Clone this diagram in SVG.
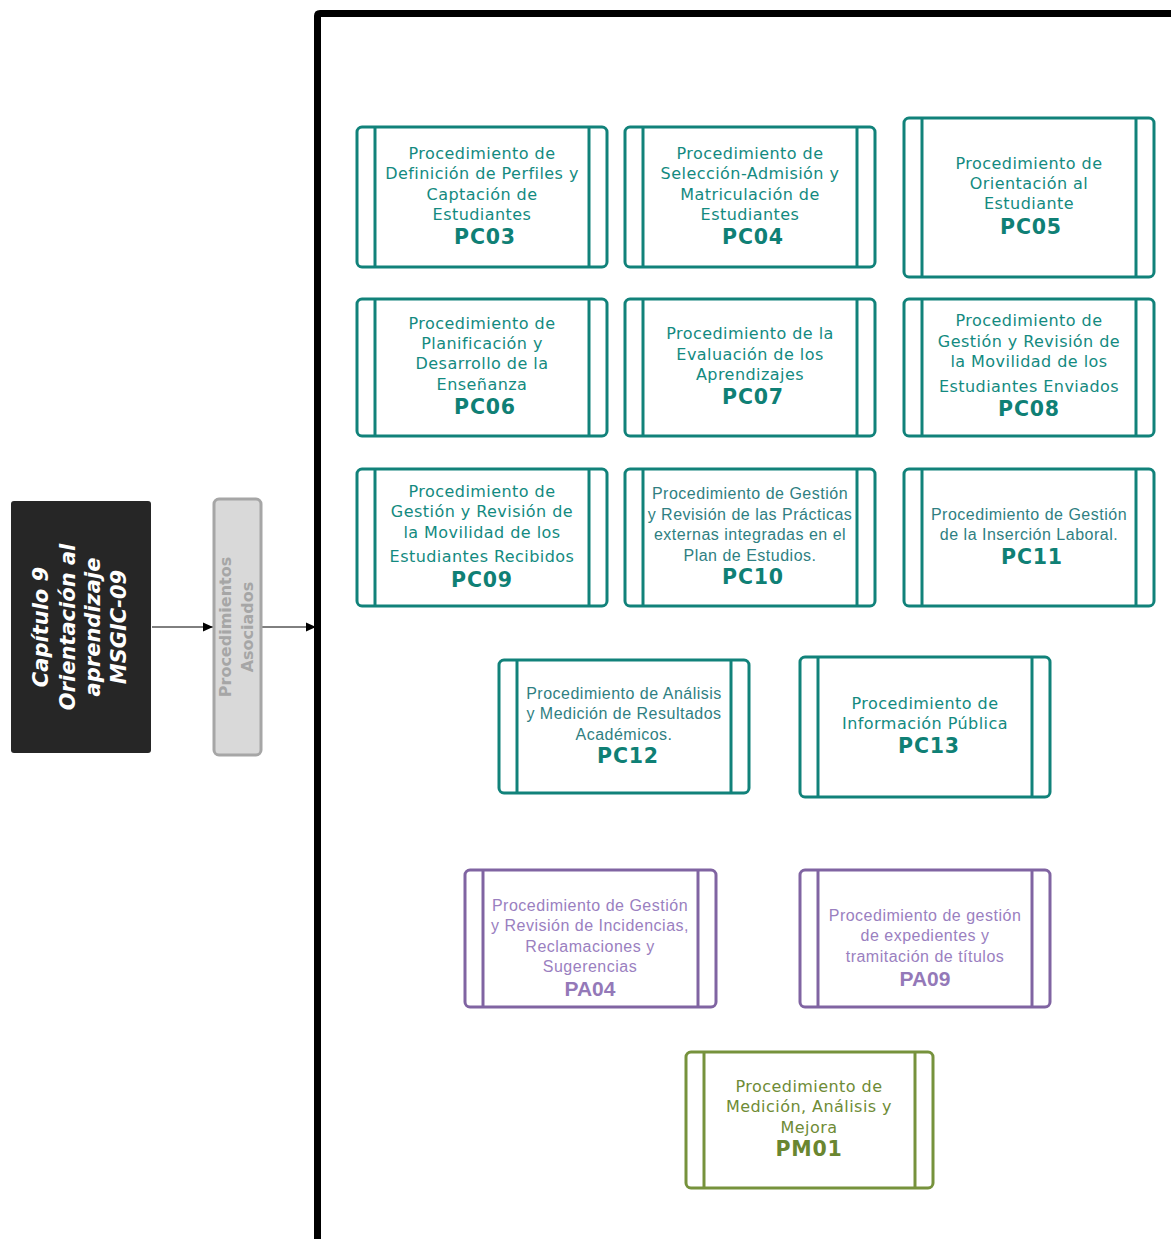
<svg xmlns="http://www.w3.org/2000/svg" width="1171" height="1239" viewBox="0 0 1171 1239">
<defs>
<style>
.teal rect{fill:#fff;stroke:#11827a;stroke-width:3}
.teal line{stroke:#11827a;stroke-width:3}
.purple rect{fill:#fff;stroke:#8064a2;stroke-width:3}
.purple line{stroke:#8064a2;stroke-width:3}
.green rect{fill:#fff;stroke:#76923c;stroke-width:3}
.green line{stroke:#76923c;stroke-width:3}
text{text-anchor:middle}
.v{font-family:"DejaVu Sans",Verdana,sans-serif;font-size:16px;letter-spacing:0.45px}
.a{font-family:"Liberation Sans",Arial,sans-serif;font-size:16px;letter-spacing:0.5px}
.vb{font-family:"DejaVu Sans",Verdana,sans-serif;font-size:20.5px;font-weight:bold;letter-spacing:0.8px}
.ab{font-family:"Liberation Sans",Arial,sans-serif;font-size:21px;font-weight:bold}
.tt{fill:#138a80}
.ta{fill:#2f7f82}
.tc{fill:#0f8075}
.pt{fill:#9a80bf}
.pc{fill:#9479b8}
.gt{fill:#6e8b36}
.gc{fill:#6a8630}
</style>
<marker id="arr" viewBox="0 0 10 10" refX="10" refY="5" markerWidth="10" markerHeight="10" markerUnits="userSpaceOnUse" orient="auto">
<path d="M0,0.5 L10,5 L0,9.5 z" fill="#000"/>
</marker>
</defs>
<rect width="1171" height="1239" fill="#fff"/>

<g id="frame">
<path d="M317.5,1245 V16 Q317.5,13.5 320,13.5 H1180" fill="none" stroke="#000" stroke-width="7"/>
</g>

<g id="connectors">
<line x1="152" y1="627" x2="213" y2="627" stroke="#000" stroke-width="1" marker-end="url(#arr)"/>
<line x1="262" y1="627" x2="316" y2="627" stroke="#000" stroke-width="1" marker-end="url(#arr)"/>
</g>

<g id="capitulo">
<rect x="11" y="501" width="140" height="252" rx="3" fill="#262626"/>
<g transform="translate(0,627) rotate(-90)" font-family="'DejaVu Sans',Verdana,sans-serif" font-size="21px" font-weight="bold" font-style="italic" fill="#fff">
<text x="0" y="48">Capítulo 9</text>
<text x="0" y="75">Orientación al</text>
<text x="0" y="100">aprendizaje</text>
<text x="0" y="126">MSGIC-09</text>
</g>
</g>

<g id="asociados">
<rect x="214" y="499" width="47" height="256" rx="5" fill="#d9d9d9" stroke="#a6a6a6" stroke-width="3"/>
<g transform="translate(0,627) rotate(-90)" font-family="'DejaVu Sans',Verdana,sans-serif" font-size="16px" font-weight="bold" fill="#a6a6a6">
<text x="0" y="231">Procedimientos</text>
<text x="0" y="253">Asociados</text>
</g>
</g>

<g id="PC03" class="teal">
<rect x="357" y="127" width="250" height="140" rx="5"/>
<line x1="375" y1="127" x2="375" y2="267"/><line x1="589" y1="127" x2="589" y2="267"/>
<text class="v tt" x="482" y="159">Procedimiento de</text>
<text class="v tt" x="482" y="179">Definición de Perfiles y</text>
<text class="v tt" x="482" y="200">Captación de</text>
<text class="v tt" x="482" y="220">Estudiantes</text>
<text class="vb tc" x="485" y="244">PC03</text>
</g>

<g id="PC04" class="teal">
<rect x="625" y="127" width="250" height="140" rx="5"/>
<line x1="643" y1="127" x2="643" y2="267"/><line x1="857" y1="127" x2="857" y2="267"/>
<text class="v tt" x="750" y="159">Procedimiento de</text>
<text class="v tt" x="750" y="179">Selección-Admisión y</text>
<text class="v tt" x="750" y="200">Matriculación de</text>
<text class="v tt" x="750" y="220">Estudiantes</text>
<text class="vb tc" x="753" y="244">PC04</text>
</g>

<g id="PC05" class="teal">
<rect x="904" y="118" width="250" height="159" rx="5"/>
<line x1="922" y1="118" x2="922" y2="277"/><line x1="1136" y1="118" x2="1136" y2="277"/>
<text class="v tt" x="1029" y="169">Procedimiento de</text>
<text class="v tt" x="1029" y="189">Orientación al</text>
<text class="v tt" x="1029" y="209">Estudiante</text>
<text class="vb tc" x="1031" y="234">PC05</text>
</g>

<g id="PC06" class="teal">
<rect x="357" y="299" width="250" height="137" rx="5"/>
<line x1="375" y1="299" x2="375" y2="436"/><line x1="589" y1="299" x2="589" y2="436"/>
<text class="v tt" x="482" y="329">Procedimiento de</text>
<text class="v tt" x="482" y="349">Planificación y</text>
<text class="v tt" x="482" y="369">Desarrollo de la</text>
<text class="v tt" x="482" y="390">Enseñanza</text>
<text class="vb tc" x="485" y="414">PC06</text>
</g>

<g id="PC07" class="teal">
<rect x="625" y="299" width="250" height="137" rx="5"/>
<line x1="643" y1="299" x2="643" y2="436"/><line x1="857" y1="299" x2="857" y2="436"/>
<text class="v tt" x="750" y="339">Procedimiento de la</text>
<text class="v tt" x="750" y="360">Evaluación de los</text>
<text class="v tt" x="750" y="380">Aprendizajes</text>
<text class="vb tc" x="753" y="404">PC07</text>
</g>

<g id="PC08" class="teal">
<rect x="904" y="299" width="250" height="137" rx="5"/>
<line x1="922" y1="299" x2="922" y2="436"/><line x1="1136" y1="299" x2="1136" y2="436"/>
<text class="v tt" x="1029" y="326">Procedimiento de</text>
<text class="v tt" x="1029" y="347">Gestión y Revisión de</text>
<text class="v tt" x="1029" y="367">la Movilidad de los</text>
<text class="v tt" x="1029" y="392">Estudiantes Enviados</text>
<text class="vb tc" x="1029" y="416">PC08</text>
</g>

<g id="PC09" class="teal">
<rect x="357" y="469" width="250" height="137" rx="5"/>
<line x1="375" y1="469" x2="375" y2="606"/><line x1="589" y1="469" x2="589" y2="606"/>
<text class="v tt" x="482" y="497">Procedimiento de</text>
<text class="v tt" x="482" y="517">Gestión y Revisión de</text>
<text class="v tt" x="482" y="538">la Movilidad de los</text>
<text class="v tt" x="482" y="562">Estudiantes Recibidos</text>
<text class="vb tc" x="482" y="587">PC09</text>
</g>

<g id="PC10" class="teal">
<rect x="625" y="469" width="250" height="137" rx="5"/>
<line x1="643" y1="469" x2="643" y2="606"/><line x1="857" y1="469" x2="857" y2="606"/>
<text class="a ta" x="750" y="499">Procedimiento de Gestión</text>
<text class="a ta" x="750" y="520">y Revisión de las Prácticas</text>
<text class="a ta" x="750" y="540">externas integradas en el</text>
<text class="a ta" x="750" y="561">Plan de Estudios.</text>
<text class="vb tc" x="753" y="584">PC10</text>
</g>

<g id="PC11" class="teal">
<rect x="904" y="469" width="250" height="137" rx="5"/>
<line x1="922" y1="469" x2="922" y2="606"/><line x1="1136" y1="469" x2="1136" y2="606"/>
<text class="a ta" x="1029" y="520">Procedimiento de Gestión</text>
<text class="a ta" x="1029" y="540">de la Inserción Laboral.</text>
<text class="vb tc" x="1032" y="564">PC11</text>
</g>

<g id="PC12" class="teal">
<rect x="499" y="660" width="250" height="133" rx="5"/>
<line x1="517" y1="660" x2="517" y2="793"/><line x1="731" y1="660" x2="731" y2="793"/>
<text class="a ta" x="624" y="699">Procedimiento de Análisis</text>
<text class="a ta" x="624" y="719">y Medición de Resultados</text>
<text class="a ta" x="624" y="740">Académicos.</text>
<text class="vb tc" x="628" y="763">PC12</text>
</g>

<g id="PC13" class="teal">
<rect x="800" y="657" width="250" height="140" rx="5"/>
<line x1="818" y1="657" x2="818" y2="797"/><line x1="1032" y1="657" x2="1032" y2="797"/>
<text class="v tt" x="925" y="709">Procedimiento de</text>
<text class="v tt" x="925" y="729">Información Pública</text>
<text class="vb tc" x="929" y="753">PC13</text>
</g>

<g id="PA04" class="purple">
<rect x="465" y="870" width="251" height="137" rx="5"/>
<line x1="483" y1="870" x2="483" y2="1007"/><line x1="698" y1="870" x2="698" y2="1007"/>
<text class="a pt" x="590" y="911">Procedimiento de Gestión</text>
<text class="a pt" x="590" y="931">y Revisión de Incidencias,</text>
<text class="a pt" x="590" y="952">Reclamaciones y</text>
<text class="a pt" x="590" y="972">Sugerencias</text>
<text class="ab pc" x="590" y="996">PA04</text>
</g>

<g id="PA09" class="purple">
<rect x="800" y="870" width="250" height="137" rx="5"/>
<line x1="818" y1="870" x2="818" y2="1007"/><line x1="1032" y1="870" x2="1032" y2="1007"/>
<text class="a pt" x="925" y="921">Procedimiento de gestión</text>
<text class="a pt" x="925" y="941">de expedientes y</text>
<text class="a pt" x="925" y="962">tramitación de títulos</text>
<text class="ab pc" x="925" y="986">PA09</text>
</g>

<g id="PM01" class="green">
<rect x="686" y="1052" width="247" height="136" rx="5"/>
<line x1="704" y1="1052" x2="704" y2="1188"/><line x1="915" y1="1052" x2="915" y2="1188"/>
<text class="v gt" x="809" y="1092">Procedimiento de</text>
<text class="v gt" x="809" y="1112">Medición, Análisis y</text>
<text class="v gt" x="809" y="1133">Mejora</text>
<text class="vb gc" x="809" y="1156">PM01</text>
</g>
</svg>
